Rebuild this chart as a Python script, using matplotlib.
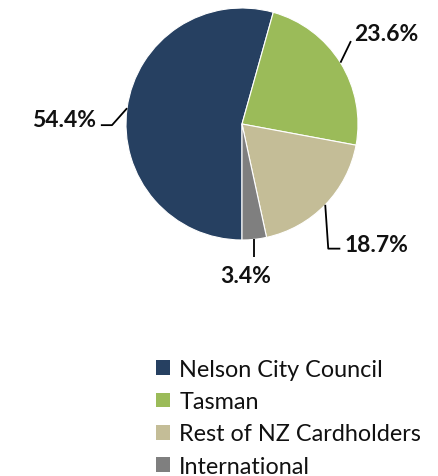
import matplotlib
matplotlib.use("Agg")
import matplotlib.pyplot as plt
import numpy as np

categories = ["Nelson City Council", "Tasman", "Rest of NZ Cardholders", "International"]
values = [54.4, 23.6, 18.7, 3.4]
labels = ["54.4%", "23.6%", "18.7%", "3.4%"]
colors = ["#264061", "#9BBB59", "#C4BD97", "#7F7F7F"]

plt.rcParams['font.family'] = ['Lato', 'DejaVu Sans']

W, H = 439, 477
fig = plt.figure(figsize=(W/100, H/100), dpi=100)
ax = fig.add_axes([0, 0, 1, 1])
cx, cy, R = 242, 125, 116

wedges, _ = ax.pie(values, colors=colors, startangle=-90, counterclock=False,
                   radius=1, center=(0, 0), frame=True,
                   wedgeprops=dict(edgecolor='white', linewidth=0.8))
ax.set_xlim(-cx/R, (W-cx)/R)
ax.set_ylim(-(H-cy)/R, cy/R)
ax.set_aspect('auto')
ax.axis('off')

leaders = [
    dict(pts=[(-0.13, -0.146), (-0.226, -0.146)], text=(-1.255, 0.04), ha='right', va='center'),
    dict(pts=[(0.09, 0.186)], text=(0.965, 0.78), ha='left', va='center'),
    dict(pts=[(0.026, -0.378), (0.13, -0.378)], text=(0.885, -1.035), ha='left', va='center'),
    dict(pts=[(0.0, -0.152)], text=(0.034, -1.31), ha='center', va='center'),
]

for w, lab, ld in zip(wedges, labels, leaders):
    ang = np.deg2rad((w.theta1 + w.theta2) / 2)
    x0, y0 = np.cos(ang), np.sin(ang)
    xs = [x0] + [x0 + dx for dx, dy in ld['pts']]
    ys = [y0] + [y0 + dy for dx, dy in ld['pts']]
    ax.plot(xs, ys, color='black', lw=1.3, solid_capstyle='butt')
    ax.text(ld['text'][0], ld['text'][1], lab, ha=ld['ha'], va=ld['va'],
            fontsize=16.5, fontweight='bold', color='#111111')

leg = fig.legend(wedges, categories, loc='upper left',
                 bbox_to_anchor=(156/W, 1 - 360/H), frameon=False,
                 fontsize=16.8, handlelength=0.6, handleheight=0.6,
                 handletextpad=0.4, labelspacing=0.48, borderpad=0,
                 borderaxespad=0)
for t in leg.get_texts():
    t.set_color('#111111')
for h in leg.legend_handles:
    h.set_edgecolor('none')

fig.savefig("out.png", dpi=100)
